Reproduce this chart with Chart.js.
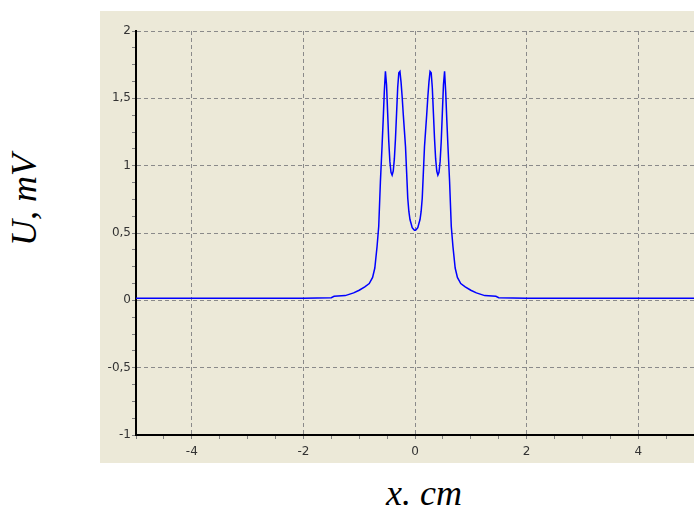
<!DOCTYPE html>
<html><head><meta charset="utf-8">
<script src="https://cdn.jsdelivr.net/npm/chart.js@4"></script>
<style>
html,body{margin:0;padding:0;width:694px;height:508px;overflow:hidden;background:#fff;}
#wrap{position:absolute;left:100px;top:11px;width:600px;height:452px;background:#ECE9D8;}
.lbl{position:absolute;font-family:'Liberation Serif','Times New Roman',serif;font-style:italic;font-size:36px;line-height:36px;white-space:nowrap;color:#000;}
#ylab{left:24px;top:200px;transform:translate(-50%,-50%) rotate(-90deg);}
#xlab{left:424px;top:475px;transform:translateX(-50%);}
</style></head>
<body>
<div id="wrap"><canvas id="c"></canvas></div>
<div class="lbl" id="ylab">U, mV</div>
<div class="lbl" id="xlab">x. cm</div>
<script>
const xs = [-5, -2, -1.5, -1.45, -1.25, -1.1, -1.0, -0.9, -0.82, -0.76, -0.72, -0.68, -0.65, -0.62, -0.59, -0.57, -0.55, -0.53, -0.51, -0.49, -0.47, -0.45, -0.43, -0.41, -0.39, -0.37, -0.35, -0.33, -0.31, -0.29, -0.27, -0.25, -0.23, -0.21, -0.19, -0.17, -0.15, -0.13, -0.11, -0.09, -0.07, -0.05, -0.03, -0.01,
  0.01, 0.03, 0.05, 0.07, 0.09, 0.11, 0.13, 0.15, 0.17, 0.19, 0.21, 0.23, 0.25, 0.27, 0.29, 0.31, 0.33, 0.35, 0.37, 0.39, 0.41, 0.43, 0.45, 0.47, 0.49, 0.51, 0.53, 0.55, 0.57, 0.59, 0.62, 0.65, 0.68, 0.72, 0.76, 0.82, 0.9, 1.0, 1.1, 1.25, 1.45, 1.5, 2, 5];
const ys = [0.015, 0.015, 0.02, 0.03, 0.035, 0.055, 0.075, 0.10, 0.125, 0.17, 0.24, 0.40, 0.55, 0.88, 1.15, 1.34, 1.55, 1.70, 1.60, 1.39, 1.18, 1.03, 0.95, 0.93, 0.96, 1.05, 1.20, 1.39, 1.58, 1.69, 1.70, 1.62, 1.51, 1.38, 1.26, 1.14, 0.95, 0.76, 0.66, 0.60, 0.57, 0.54, 0.53, 0.52,
  0.52, 0.53, 0.54, 0.57, 0.60, 0.66, 0.76, 0.95, 1.14, 1.26, 1.38, 1.51, 1.62, 1.70, 1.69, 1.58, 1.39, 1.20, 1.05, 0.96, 0.93, 0.95, 1.03, 1.18, 1.39, 1.60, 1.70, 1.55, 1.34, 1.15, 0.88, 0.55, 0.40, 0.24, 0.17, 0.125, 0.10, 0.075, 0.055, 0.035, 0.03, 0.02, 0.015, 0.015];
const xMajor = [-4, -2, 0, 2, 4];
const xTickLabels = ['-4', '-2', '0', '2', '4'];
const yMajor = [-1, -0.5, 0, 0.5, 1, 1.5, 2];
const yTickLabels = ['-1', '-0,5', '0', '0,5', '1', '1,5', '2'];

const idxOf = (arr, v) => arr.findIndex(a => Math.abs(a - v) < 1e-6);
const pts = xs.map((x, i) => ({x: x, y: ys[i]}));
const tickFont = {family: "'DejaVu Sans', Tahoma, sans-serif", size: 12};

new Chart(document.getElementById('c'), {
  type: 'scatter',
  data: {datasets: [{data: pts, showLine: true, borderColor: '#0000FF', borderWidth: 1.5, pointRadius: 0, tension: 0, fill: false}]},
  options: {
    responsive: true, maintainAspectRatio: false, animation: false,
    layout: {padding: {top: 20, right: 6, left: 0, bottom: 0}},
    plugins: {legend: {display: false}, tooltip: {enabled: false}},
    scales: {
      x: {
        type: 'linear', min: -5, max: 5,
        afterFit: s => { s.height = 28; },
        ticks: {stepSize: 0.5, autoSkip: false, maxRotation: 0, padding: 6, font: tickFont, color: '#333',
          callback: v => { const i = idxOf(xMajor, v); return i >= 0 ? xTickLabels[i] : ''; }},
        grid: {color: c => idxOf(xMajor, c.tick.value) >= 0 ? '#8a8a8a' : 'transparent', lineWidth: 1,
          tickColor: '#808080', tickLength: 4, tickBorderDash: []},
        border: {display: true, color: '#000', width: 2, dash: [4, 3]}
      },
      y: {
        min: -1, max: 2,
        afterFit: s => { s.width = 36; },
        ticks: {stepSize: 0.125, autoSkip: false, padding: 1, font: tickFont, color: '#333',
          callback: v => { const i = idxOf(yMajor, v); return i >= 0 ? yTickLabels[i] : ''; }},
        grid: {color: c => idxOf(yMajor, c.tick.value) >= 0 ? '#8a8a8a' : 'transparent', lineWidth: 1,
          tickColor: '#808080', tickLength: 4, tickBorderDash: []},
        border: {display: true, color: '#000', width: 2, dash: [4, 3]}
      }
    }
  }
});
</script>
</body></html>
